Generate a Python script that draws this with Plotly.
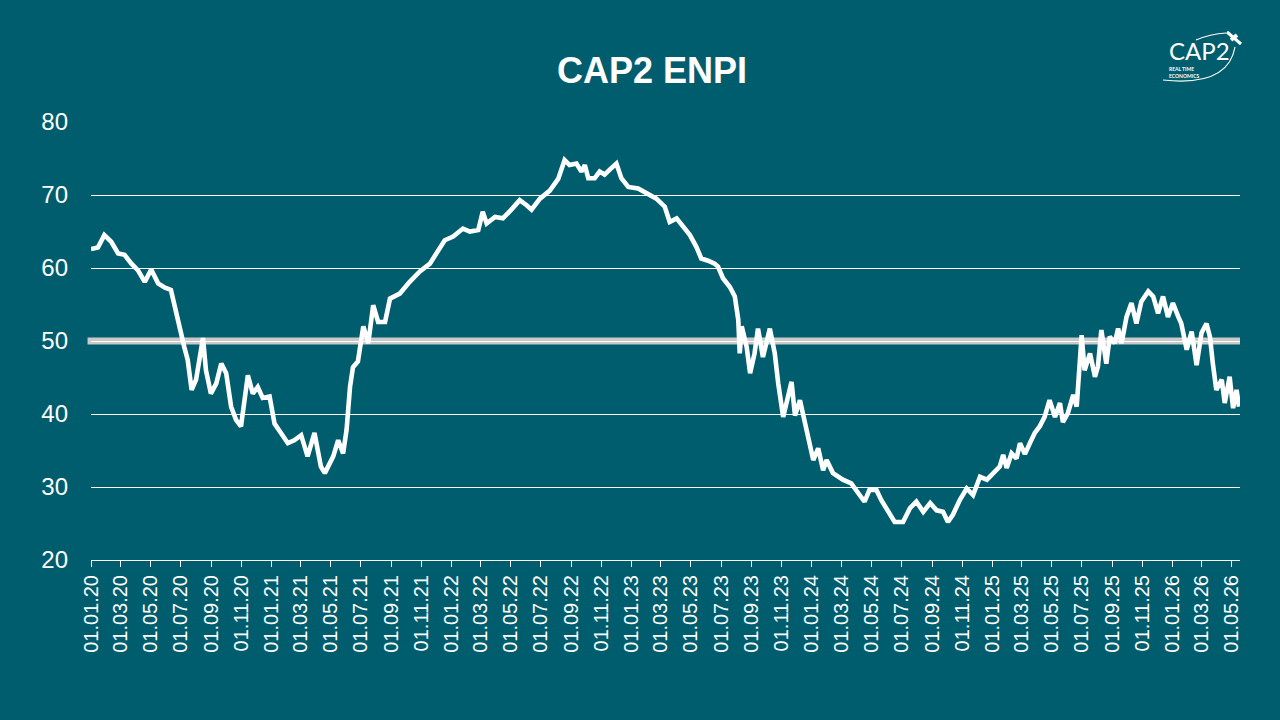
import plotly.graph_objects as go

# ---------------- data ----------------
dates = [
    "2020-01-01", "2020-01-15", "2020-01-28", "2020-02-11", "2020-02-25", "2020-03-09", "2020-03-23", "2020-04-05", "2020-04-19", "2020-05-02",
    "2020-05-16", "2020-05-30", "2020-06-11", "2020-06-19", "2020-06-28", "2020-07-08", "2020-07-15", "2020-07-23", "2020-08-01", "2020-08-08",
    "2020-08-15", "2020-08-21", "2020-08-31", "2020-09-11", "2020-09-21", "2020-10-01", "2020-10-11", "2020-10-21", "2020-10-31", "2020-11-14",
    "2020-11-24", "2020-12-04", "2020-12-14", "2020-12-28", "2021-01-07", "2021-01-20", "2021-02-03", "2021-02-16", "2021-03-02", "2021-03-15",
    "2021-03-29", "2021-04-11", "2021-04-19", "2021-05-06", "2021-05-16", "2021-05-26", "2021-06-02", "2021-06-09", "2021-06-15", "2021-06-25",
    "2021-07-06", "2021-07-16", "2021-07-26", "2021-08-05", "2021-08-19", "2021-08-29", "2021-09-18", "2021-10-08", "2021-10-28", "2021-11-18",
    "2021-12-01", "2021-12-18", "2022-01-04", "2022-01-24", "2022-02-07", "2022-02-24", "2022-03-05", "2022-03-13", "2022-03-30", "2022-04-15",
    "2022-05-02", "2022-05-19", "2022-06-02", "2022-06-12", "2022-06-29", "2022-07-19", "2022-08-05", "2022-08-18", "2022-08-28", "2022-09-11",
    "2022-09-21", "2022-09-28", "2022-10-05", "2022-10-18", "2022-10-28", "2022-11-07", "2022-11-18", "2022-12-01", "2022-12-11", "2022-12-25",
    "2023-01-14", "2023-01-31", "2023-02-20", "2023-03-09", "2023-03-19", "2023-04-02", "2023-04-15", "2023-04-29", "2023-05-12", "2023-05-22",
    "2023-06-05", "2023-06-18", "2023-06-25", "2023-07-05", "2023-07-19", "2023-07-29", "2023-08-05", "2023-08-08", "2023-08-12", "2023-08-22",
    "2023-08-29", "2023-09-07", "2023-09-14", "2023-09-24", "2023-10-08", "2023-10-18", "2023-10-25", "2023-11-04", "2023-11-21", "2023-11-28",
    "2023-12-08", "2023-12-22", "2024-01-04", "2024-01-14", "2024-01-24", "2024-01-31", "2024-02-13", "2024-03-04", "2024-03-21", "2024-04-07",
    "2024-04-17", "2024-04-27", "2024-05-11", "2024-05-21", "2024-06-07", "2024-06-17", "2024-07-04", "2024-07-18", "2024-07-31", "2024-08-14",
    "2024-08-28", "2024-09-10", "2024-09-23", "2024-10-03", "2024-10-13", "2024-10-27", "2024-11-10", "2024-11-23", "2024-12-07", "2024-12-21",
    "2025-01-03", "2025-01-16", "2025-01-23", "2025-01-30", "2025-02-09", "2025-02-19", "2025-02-26", "2025-03-08", "2025-03-18", "2025-03-28",
    "2025-04-07", "2025-04-17", "2025-04-27", "2025-05-08", "2025-05-18", "2025-05-24", "2025-06-03", "2025-06-14", "2025-06-21", "2025-06-27",
    "2025-07-01", "2025-07-07", "2025-07-18", "2025-07-28", "2025-08-03", "2025-08-10", "2025-08-20", "2025-08-27", "2025-09-06", "2025-09-13",
    "2025-09-20", "2025-09-30", "2025-10-10", "2025-10-20", "2025-10-30", "2025-11-13", "2025-11-23", "2025-12-03", "2025-12-13", "2025-12-23",
    "2026-01-02", "2026-01-13", "2026-01-19", "2026-01-30", "2026-02-09", "2026-02-19", "2026-03-01", "2026-03-11", "2026-03-18", "2026-03-24",
    "2026-03-31", "2026-04-11", "2026-04-17", "2026-04-27", "2026-05-04", "2026-05-11", "2026-05-16",
]

enpi = [
    62.6, 62.8, 64.5, 63.6, 62.0, 61.8, 60.6, 59.7, 58.1, 59.8,
    57.9, 57.3, 57.0, 54.7, 51.5, 49.2, 47.4, 43.3, 44.7, 47.4,
    50.4, 46.0, 42.8, 44.2, 46.9, 45.6, 41.0, 39.2, 38.3, 45.3,
    42.8, 43.7, 42.2, 42.4, 38.7, 37.4, 36.0, 36.4, 37.1, 34.2,
    37.4, 32.8, 31.9, 34.2, 36.4, 34.6, 37.8, 43.7, 46.4, 47.2,
    52.0, 49.7, 54.9, 52.6, 52.6, 55.8, 56.5, 58.1, 59.5, 60.6,
    62.0, 63.8, 64.3, 65.4, 65.0, 65.2, 67.7, 66.1, 67.0, 66.8,
    68.0, 69.3, 68.6, 68.0, 69.5, 70.6, 72.2, 74.8, 74.1, 74.3,
    73.2, 74.1, 72.3, 72.3, 73.2, 72.8, 73.5, 74.3, 72.3, 71.1,
    70.9, 70.2, 69.5, 68.4, 66.3, 66.8, 65.7, 64.5, 62.9, 61.3,
    61.0, 60.6, 60.2, 58.6, 57.4, 56.1, 52.9, 48.3, 52.0, 49.2,
    45.6, 48.3, 51.7, 47.8, 51.7, 48.3, 44.2, 39.6, 44.4, 39.8,
    41.9, 37.4, 33.7, 35.3, 32.3, 33.7, 31.9, 31.0, 30.5, 28.9,
    28.0, 29.6, 29.6, 28.2, 26.2, 25.2, 25.2, 27.1, 28.0, 26.6,
    27.8, 26.8, 26.6, 25.2, 26.2, 28.2, 29.8, 28.9, 31.4, 31.0,
    31.9, 32.8, 34.4, 32.6, 34.6, 33.9, 36.0, 34.5, 36.0, 37.4,
    38.3, 39.6, 41.9, 39.6, 41.5, 38.9, 40.1, 42.6, 41.0, 46.5,
    50.8, 46.0, 48.3, 45.1, 46.5, 51.5, 46.9, 50.6, 49.7, 51.7,
    49.7, 53.3, 55.2, 52.4, 55.4, 56.8, 56.1, 53.8, 56.1, 53.3,
    55.2, 53.3, 52.4, 48.8, 51.3, 46.7, 51.1, 52.4, 50.6, 46.9,
    43.3, 44.7, 41.5, 45.1, 40.8, 43.3, 41.0,
]

threshold = 50
x_range = ["2020-01-01", "2026-05-18"]
y_range = [20, 80]
y_ticks = [20, 30, 40, 50, 60, 70, 80]

BG = "#005D6E"
WHITE = "#FFFFFF"
FONT = "Liberation Sans, Arial, sans-serif"

fig = go.Figure()
fig.add_trace(go.Scatter(
    x=dates, y=enpi, mode="lines",
    line=dict(color=WHITE, width=4.6),
    hoverinfo="x+y", showlegend=False,
))

# 50 threshold band
fig.add_shape(type="line", xref="paper", yref="y", x0=-0.003, x1=1.0, y0=threshold, y1=threshold,
              line=dict(color="#C9C9C9", width=7), layer="below")

# logo (decorative)
def px(xp):
    return (xp - 91) / 1149

def py(yp):
    return (560 - yp) / 438

fig.add_annotation(xref="paper", yref="paper", x=px(1199), y=py(50), text="CAP2", showarrow=False,
                   font=dict(family="Lato, sans-serif", size=24, color=WHITE), xanchor="center", yanchor="middle")
fig.add_annotation(xref="paper", yref="paper", x=px(1167), y=py(72), text="<b>REAL TIME<br>ECONOMICS</b>",
                   showarrow=False, align="left", xanchor="left", yanchor="middle",
                   font=dict(family="Lato, sans-serif", size=5, color=WHITE))
fig.add_shape(type="path", xref="paper", yref="paper",
              path=f"M {px(1163)} {py(80)} Q {px(1228)} {py(87)} {px(1235)} {py(47)}",
              line=dict(color=WHITE, width=1.2))
fig.add_shape(type="path", xref="paper", yref="paper",
              path=f"M {px(1196)} {py(40)} Q {px(1210)} {py(34)} {px(1226)} {py(33)}",
              line=dict(color=WHITE, width=1.2))
fig.add_shape(type="line", xref="paper", yref="paper", x0=px(1227), y0=py(32), x1=px(1241), y1=py(44),
              line=dict(color=WHITE, width=3))
fig.add_shape(type="line", xref="paper", yref="paper", x0=px(1231), y0=py(40), x1=px(1237), y1=py(35),
              line=dict(color=WHITE, width=4))

fig.update_layout(
    width=1280, height=720,
    margin=dict(l=91, r=40, t=122, b=160),
    paper_bgcolor=BG, plot_bgcolor=BG,
    font=dict(family=FONT, color=WHITE),
    title=dict(text="<b>CAP2 ENPI</b>", x=652 / 1280, xanchor="center", xref="container",
               y=1 - 70 / 720, yanchor="middle", yref="container",
               font=dict(family=FONT, size=36, color=WHITE)),
    showlegend=False,
)
fig.update_xaxes(
    type="date", range=x_range, tick0="2020-01-01", dtick="M2", tickformat="%d.%m.%y",
    tickangle=-90, tickfont=dict(family=FONT, size=20, color=WHITE),
    showgrid=False, zeroline=False, showline=True, linecolor=WHITE, linewidth=1,
    ticks="outside", ticklen=6, tickcolor=WHITE, tickwidth=1,
)
fig.update_yaxes(
    range=y_range, tickvals=y_ticks, tickfont=dict(family=FONT, size=24, color=WHITE),
    showgrid=True, gridcolor=WHITE, gridwidth=1, zeroline=False, showline=False,
    ticks="", ticklabelstandoff=22,
)

fig.write_html("out.html")
